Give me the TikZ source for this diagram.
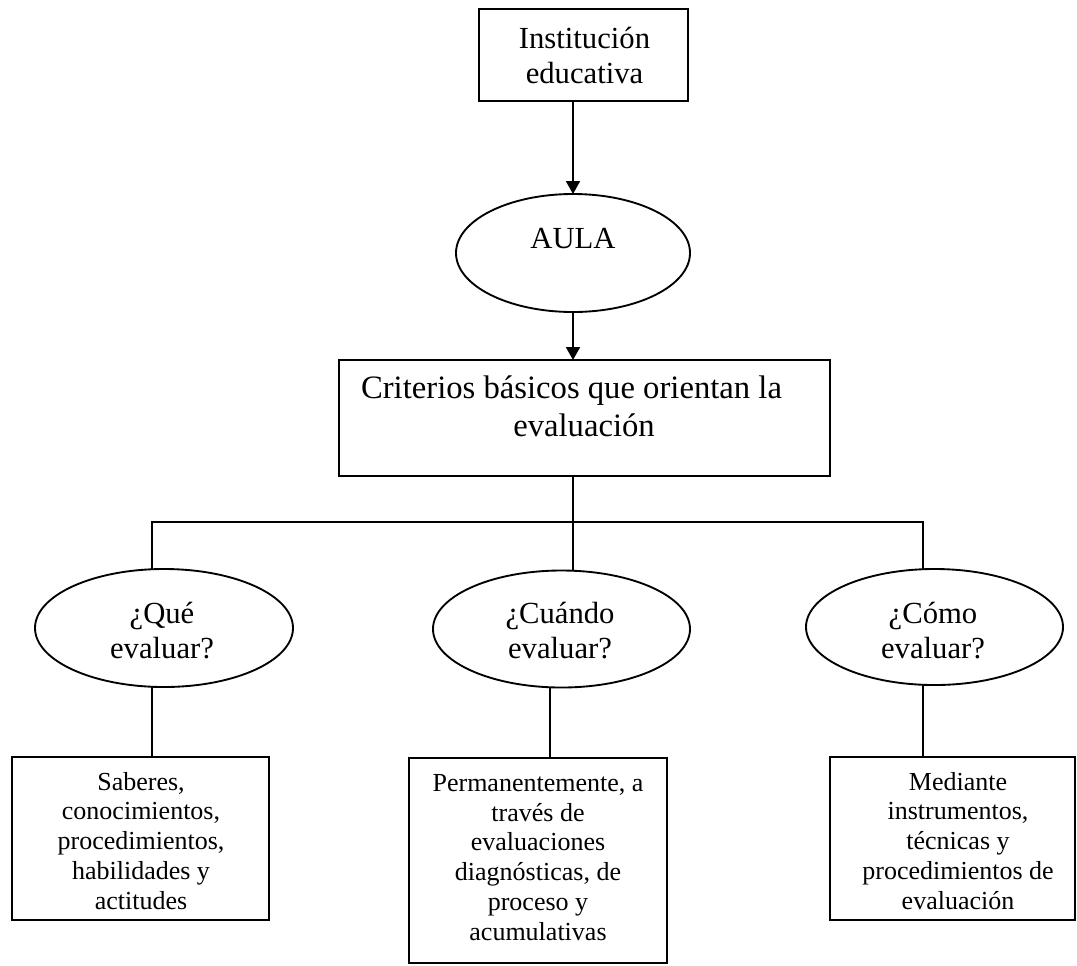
\documentclass[tikz,border=0pt]{standalone}
\usepackage{fontspec}
\setmainfont{Liberation Serif}
\usetikzlibrary{shapes.geometric,arrows.meta}
\begin{document}
\begin{tikzpicture}[x=0.75pt,y=-0.75pt,
  line width=1.4pt,
  box/.style={draw,rectangle,inner sep=0pt,outer sep=0pt},
  oval/.style={draw,ellipse,inner sep=0pt,outer sep=0pt},
  % multi-line text: the base anchor sits on the last line
  txt/.style={inner sep=0pt,outer sep=0pt,anchor=base,align=center},
  bigfont/.style={font=\fontsize{23}{26.25}\selectfont},
  critfont/.style={font=\fontsize{24.5}{28.5}\selectfont},
  ovalfont/.style={font=\fontsize{23}{26.25}\selectfont},
  smallfont/.style={font=\fontsize{19.5}{22.3}\selectfont},
  arr/.style={-{Triangle[length=9.75pt,width=10.5pt]}}
]
\fill[white] (0,0) rectangle (1077,965);
\useasboundingbox (0,0) rectangle (1077,965);

% shapes
\node[box,minimum width=156.75pt,minimum height=69pt] (inst) at (583.5,55) {};
\node[oval,minimum width=175.5pt,minimum height=88.5pt] (aula) at (573,253) {};
\node[box,minimum width=368.25pt,minimum height=87pt] (crit) at (584.5,418) {};
\node[oval,minimum width=193.5pt,minimum height=88.5pt] (que) at (164,628) {};
\node[oval,minimum width=192.75pt,minimum height=87.75pt] (cuando) at (561.5,629) {};
\node[oval,minimum width=192.75pt,minimum height=87pt] (como) at (934.5,627) {};
\node[box,minimum width=192.75pt,minimum height=122.25pt] (saberes) at (140.5,838.5) {};
\node[box,minimum width=193.5pt,minimum height=153.75pt] (perm) at (538,860.5) {};
\node[box,minimum width=183.75pt,minimum height=122.25pt] (mediante) at (952.5,838.5) {};

% texts
\node[txt,bigfont] (instT) at (584.5,83) {Institución\\educativa};
\node[txt,bigfont] (aulaT) at (573,248) {AULA};
\node[txt,critfont] (critT) at (584,436) {Criterios básicos que orientan la\hspace*{18.75pt}\\evaluación};
\node[txt,ovalfont] (queT) at (162,658) {¿Qué\\evaluar?};
\node[txt,ovalfont] (cuandoT) at (560,658) {¿Cuándo\\evaluar?};
\node[txt,ovalfont] (comoT) at (933,658) {¿Cómo\\evaluar?};
\node[txt,smallfont] (saberesT) at (141,909) {Saberes,\\conocimientos,\\procedimientos,\\habilidades y\\actitudes};
\node[txt,smallfont] (permT) at (538,940) {Permanentemente, a\\través de\\evaluaciones\\diagnósticas, de\\proceso y\\acumulativas};
\node[txt,smallfont] (medianteT) at (958,909) {Mediante\\instrumentos,\\técnicas y\\procedimientos de\\evaluación};

% connectors
\coordinate (busL) at (152,522);
\coordinate (busR) at (923,522);
\coordinate (drop) at (550,720);

\draw[arr] (inst.south -| aula.north) -- (aula.north);
\draw[arr] (aula.south) -- (aula.south |- crit.north);
\draw (crit.south -| aula.south) -- (aula.south |- cuando.north);
\draw (que.north -| busL) -- (busL) -- (busR) -- (como.north -| busR);
\draw (que.south -| busL) -- (saberes.north -| busL);
\draw (cuando.south -| drop) -- (perm.north -| drop);
\draw (como.south -| busR) -- (mediante.north -| busR);
\end{tikzpicture}
\end{document}
